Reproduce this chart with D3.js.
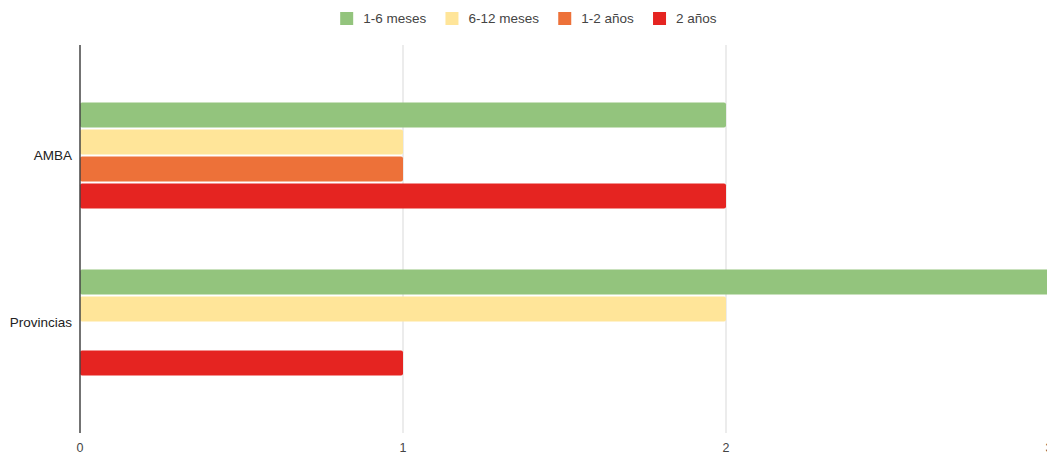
<!DOCTYPE html>
<html>
<head>
<meta charset="utf-8">
<script src="https://cdn.jsdelivr.net/npm/d3@7"></script>
<style>
  body { margin: 0; background: #fff; }
  svg { display: block; font-family: "Liberation Sans", Arial, sans-serif; }
</style>
</head>
<body>
<svg id="chart" width="1047" height="456"></svg>
<script>
// data
const categories = ["AMBA", "Provincias"];
const seriesNames = ["1-6 meses", "6-12 meses", "1-2 años", "2 años"];
const seriesColors = ["#93c47d", "#ffe599", "#ed7139", "#e52421"];
const meses1a6 = [2, 3];
const meses6a12 = [1, 2];
const anios1a2 = [1, 0];
const anios2 = [2, 1];
const xTicks = [0, 1, 2, 3];

const seriesValues = [meses1a6, meses6a12, anios1a2, anios2];

const svg = d3.select("#chart");

const plotTop = 45, plotBottom = 433, plotLeft = 80, plotRight = 1049;

// scales
const x = d3.scaleLinear().domain([0, 3]).range([plotLeft, plotRight]);

const y = d3.scaleBand()
  .domain(categories)
  .range([plotTop, plotBottom])
  .paddingInner(0.365)
  .paddingOuter(0.344);

const ySub = d3.scaleBand()
  .domain(seriesNames)
  .range([0, y.bandwidth()])
  .paddingInner(0.075)
  .paddingOuter(0);

// gridlines
svg.append("g")
  .selectAll("line")
  .data(xTicks.filter(d => d > 0))
  .enter()
  .append("line")
  .attr("x1", d => x(d)).attr("x2", d => x(d))
  .attr("y1", plotTop).attr("y2", plotBottom)
  .attr("stroke", "#d9d9d9")
  .attr("stroke-width", 1);

// bars
const rows = [];
categories.forEach((c, i) => {
  seriesNames.forEach((s, j) => {
    rows.push({ cat: c, series: s, value: seriesValues[j][i], color: seriesColors[j] });
  });
});

svg.append("g")
  .selectAll("rect")
  .data(rows.filter(d => d.value > 0))
  .enter()
  .append("rect")
  .attr("x", x(0))
  .attr("y", d => y(d.cat) + ySub(d.series))
  .attr("width", d => x(d.value) - x(0))
  .attr("height", ySub.bandwidth())
  .attr("rx", 2)
  .attr("fill", d => d.color);

// baseline axis
svg.append("line")
  .attr("x1", x(0)).attr("x2", x(0))
  .attr("y1", plotTop).attr("y2", plotBottom)
  .attr("stroke", "#444")
  .attr("stroke-width", 1.5);

// x tick labels (the last one sits on the right edge, half cut as in the source)
svg.append("g")
  .selectAll("text")
  .data(xTicks)
  .enter()
  .append("text")
  .attr("x", d => x(d))
  .attr("y", 452)
  .attr("text-anchor", "middle")
  .attr("font-size", 12.5)
  .attr("fill", "#444")
  .text(d => d);

// y category labels
svg.append("g")
  .selectAll("text")
  .data(categories)
  .enter()
  .append("text")
  .attr("x", 72)
  .attr("y", d => y(d) + y.bandwidth() / 2)
  .attr("dy", "0.35em")
  .attr("text-anchor", "end")
  .attr("font-size", 13.5)
  .attr("fill", "#222")
  .text(d => d);

// legend
const legend = svg.append("g").attr("class", "legend");
const items = legend.selectAll("g")
  .data(seriesNames)
  .enter()
  .append("g");

items.append("rect")
  .attr("width", 13).attr("height", 13)
  .attr("y", 12)
  .attr("fill", (d, i) => seriesColors[i]);

items.append("text")
  .attr("x", 23)
  .attr("y", 18.5)
  .attr("dy", "0.35em")
  .attr("font-size", 13.5)
  .attr("fill", "#444")
  .text(d => d);

const widths = [];
items.each(function() {
  widths.push(this.getBBox().width);
});
const gap = 19;
const total = d3.sum(widths) + gap * (widths.length - 1);
const startX = 528.5 - total / 2;
let offset = 0;
items.attr("transform", (d, i) => {
  const t = `translate(${startX + offset}, 0)`;
  offset += widths[i] + gap;
  return t;
});
</script>
</body>
</html>
